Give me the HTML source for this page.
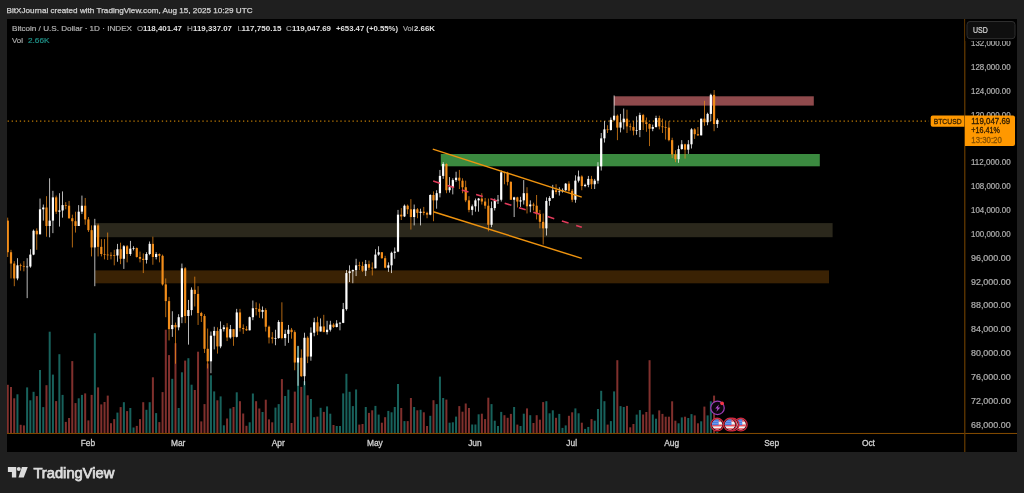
<!DOCTYPE html>
<html><head><meta charset="utf-8"><title>BTCUSD chart</title><style>html,body{margin:0;padding:0;background:#1f1f1f;overflow:hidden}svg{display:block}body{font-family:"Liberation Sans",sans-serif}</style></head><body>
<svg width="1024" height="493" viewBox="0 0 1024 493" font-family="'Liberation Sans', sans-serif">
<rect width="1024" height="493" fill="#1f1f1f"/>
<rect x="7" y="19" width="1010" height="433" fill="#000"/>
<defs><filter id="g" x="-5%" y="-30%" width="110%" height="160%"><feOffset dx="0" dy="0"/></filter><clipPath id="c"><rect x="7" y="19" width="957.5" height="414.5"/></clipPath></defs>
<g clip-path="url(#c)">
<rect x="613.9" y="96.3" width="199.9" height="9.3" fill="#8f4a4c"/>
<rect x="440.8" y="154" width="379" height="12.3" fill="#3b8a40"/>
<rect x="95.2" y="223.1" width="737.4" height="14.1" fill="#2b281c"/>
<rect x="95.2" y="270.4" width="733.8" height="12.9" fill="#3a2204"/>
<rect x="6.77" y="384.80" width="2.0" height="48.40" fill="#80302d"/><rect x="10.00" y="387.00" width="2.0" height="46.20" fill="#80302d"/><rect x="13.22" y="398.30" width="2.0" height="34.90" fill="#80302d"/><rect x="16.45" y="394.30" width="2.0" height="38.90" fill="#18625c"/><rect x="19.67" y="424.80" width="2.0" height="8.40" fill="#80302d"/><rect x="22.90" y="425.40" width="2.0" height="7.80" fill="#80302d"/><rect x="26.12" y="387.40" width="2.0" height="45.80" fill="#18625c"/><rect x="29.35" y="400.30" width="2.0" height="32.90" fill="#18625c"/><rect x="32.57" y="391.80" width="2.0" height="41.40" fill="#18625c"/><rect x="35.80" y="396.10" width="2.0" height="37.10" fill="#80302d"/><rect x="39.02" y="370.00" width="2.0" height="63.20" fill="#18625c"/><rect x="42.25" y="407.10" width="2.0" height="26.10" fill="#18625c"/><rect x="45.47" y="385.20" width="2.0" height="48.00" fill="#80302d"/><rect x="48.70" y="331.70" width="2.0" height="101.50" fill="#18625c"/><rect x="51.92" y="374.60" width="2.0" height="58.60" fill="#18625c"/><rect x="55.15" y="401.10" width="2.0" height="32.10" fill="#80302d"/><rect x="58.37" y="354.20" width="2.0" height="79.00" fill="#18625c"/><rect x="61.60" y="394.90" width="2.0" height="38.30" fill="#18625c"/><rect x="64.82" y="421.90" width="2.0" height="11.30" fill="#80302d"/><rect x="68.05" y="418.00" width="2.0" height="15.20" fill="#80302d"/><rect x="71.27" y="361.10" width="2.0" height="72.10" fill="#80302d"/><rect x="74.50" y="403.10" width="2.0" height="30.10" fill="#80302d"/><rect x="77.72" y="398.30" width="2.0" height="34.90" fill="#18625c"/><rect x="80.95" y="394.90" width="2.0" height="38.30" fill="#18625c"/><rect x="84.17" y="393.40" width="2.0" height="39.80" fill="#80302d"/><rect x="87.40" y="420.40" width="2.0" height="12.80" fill="#80302d"/><rect x="90.63" y="394.90" width="2.0" height="38.30" fill="#80302d"/><rect x="93.85" y="333.20" width="2.0" height="100.00" fill="#18625c"/><rect x="97.08" y="387.40" width="2.0" height="45.80" fill="#80302d"/><rect x="100.30" y="404.40" width="2.0" height="28.80" fill="#80302d"/><rect x="103.53" y="402.00" width="2.0" height="31.20" fill="#80302d"/><rect x="106.75" y="395.60" width="2.0" height="37.60" fill="#80302d"/><rect x="109.98" y="423.20" width="2.0" height="10.00" fill="#80302d"/><rect x="113.20" y="419.10" width="2.0" height="14.10" fill="#80302d"/><rect x="116.43" y="412.60" width="2.0" height="20.60" fill="#18625c"/><rect x="119.65" y="407.10" width="2.0" height="26.10" fill="#80302d"/><rect x="122.88" y="402.20" width="2.0" height="31.00" fill="#18625c"/><rect x="126.10" y="411.10" width="2.0" height="22.10" fill="#80302d"/><rect x="129.33" y="408.00" width="2.0" height="25.20" fill="#18625c"/><rect x="132.55" y="427.50" width="2.0" height="5.70" fill="#18625c"/><rect x="135.78" y="425.90" width="2.0" height="7.30" fill="#80302d"/><rect x="139.00" y="419.10" width="2.0" height="14.10" fill="#80302d"/><rect x="142.23" y="402.20" width="2.0" height="31.00" fill="#80302d"/><rect x="145.45" y="409.80" width="2.0" height="23.40" fill="#18625c"/><rect x="148.68" y="402.20" width="2.0" height="31.00" fill="#18625c"/><rect x="151.90" y="377.30" width="2.0" height="55.90" fill="#80302d"/><rect x="155.13" y="413.10" width="2.0" height="20.10" fill="#18625c"/><rect x="158.35" y="422.10" width="2.0" height="11.10" fill="#80302d"/><rect x="161.58" y="392.10" width="2.0" height="41.10" fill="#80302d"/><rect x="164.80" y="329.70" width="2.0" height="103.50" fill="#80302d"/><rect x="168.03" y="355.10" width="2.0" height="78.10" fill="#80302d"/><rect x="171.25" y="378.80" width="2.0" height="54.40" fill="#18625c"/><rect x="174.48" y="343.20" width="2.0" height="90.00" fill="#80302d"/><rect x="177.70" y="408.00" width="2.0" height="25.20" fill="#18625c"/><rect x="180.93" y="372.30" width="2.0" height="60.90" fill="#18625c"/><rect x="184.15" y="360.60" width="2.0" height="72.60" fill="#80302d"/><rect x="187.38" y="358.20" width="2.0" height="75.00" fill="#18625c"/><rect x="190.60" y="384.70" width="2.0" height="48.50" fill="#18625c"/><rect x="193.83" y="390.00" width="2.0" height="43.20" fill="#80302d"/><rect x="197.05" y="351.70" width="2.0" height="81.50" fill="#80302d"/><rect x="200.28" y="421.40" width="2.0" height="11.80" fill="#80302d"/><rect x="203.50" y="404.10" width="2.0" height="29.10" fill="#80302d"/><rect x="206.73" y="363.50" width="2.0" height="69.70" fill="#80302d"/><rect x="209.95" y="375.30" width="2.0" height="57.90" fill="#18625c"/><rect x="213.18" y="391.40" width="2.0" height="41.80" fill="#18625c"/><rect x="216.40" y="400.30" width="2.0" height="32.90" fill="#80302d"/><rect x="219.63" y="396.40" width="2.0" height="36.80" fill="#18625c"/><rect x="222.85" y="425.30" width="2.0" height="7.90" fill="#18625c"/><rect x="226.08" y="418.50" width="2.0" height="14.70" fill="#80302d"/><rect x="229.30" y="408.50" width="2.0" height="24.70" fill="#18625c"/><rect x="232.53" y="407.00" width="2.0" height="26.20" fill="#80302d"/><rect x="235.75" y="392.30" width="2.0" height="40.90" fill="#18625c"/><rect x="238.98" y="401.20" width="2.0" height="32.00" fill="#80302d"/><rect x="242.20" y="413.50" width="2.0" height="19.70" fill="#80302d"/><rect x="245.43" y="425.80" width="2.0" height="7.40" fill="#80302d"/><rect x="248.66" y="422.30" width="2.0" height="10.90" fill="#18625c"/><rect x="251.88" y="393.50" width="2.0" height="39.70" fill="#18625c"/><rect x="255.11" y="401.20" width="2.0" height="32.00" fill="#80302d"/><rect x="258.33" y="408.50" width="2.0" height="24.70" fill="#80302d"/><rect x="261.56" y="412.00" width="2.0" height="21.20" fill="#18625c"/><rect x="264.78" y="399.70" width="2.0" height="33.50" fill="#80302d"/><rect x="268.01" y="419.40" width="2.0" height="13.80" fill="#80302d"/><rect x="271.23" y="422.30" width="2.0" height="10.90" fill="#80302d"/><rect x="274.46" y="407.60" width="2.0" height="25.60" fill="#18625c"/><rect x="277.68" y="404.10" width="2.0" height="29.10" fill="#18625c"/><rect x="280.91" y="379.10" width="2.0" height="54.10" fill="#80302d"/><rect x="284.13" y="396.00" width="2.0" height="37.20" fill="#18625c"/><rect x="287.36" y="389.70" width="2.0" height="43.50" fill="#18625c"/><rect x="290.58" y="423.00" width="2.0" height="10.20" fill="#80302d"/><rect x="293.81" y="391.60" width="2.0" height="41.60" fill="#80302d"/><rect x="297.03" y="346.20" width="2.0" height="87.00" fill="#18625c"/><rect x="300.26" y="386.90" width="2.0" height="46.30" fill="#80302d"/><rect x="303.48" y="381.20" width="2.0" height="52.00" fill="#18625c"/><rect x="306.71" y="395.30" width="2.0" height="37.90" fill="#80302d"/><rect x="309.93" y="399.00" width="2.0" height="34.20" fill="#18625c"/><rect x="313.16" y="417.20" width="2.0" height="16.00" fill="#18625c"/><rect x="316.38" y="416.60" width="2.0" height="16.60" fill="#80302d"/><rect x="319.61" y="407.80" width="2.0" height="25.40" fill="#18625c"/><rect x="322.83" y="411.90" width="2.0" height="21.30" fill="#80302d"/><rect x="326.06" y="406.40" width="2.0" height="26.80" fill="#18625c"/><rect x="329.28" y="413.70" width="2.0" height="19.50" fill="#18625c"/><rect x="332.51" y="425.00" width="2.0" height="8.20" fill="#80302d"/><rect x="335.73" y="426.00" width="2.0" height="7.20" fill="#18625c"/><rect x="338.96" y="426.00" width="2.0" height="7.20" fill="#18625c"/><rect x="342.18" y="393.40" width="2.0" height="39.80" fill="#18625c"/><rect x="345.41" y="373.80" width="2.0" height="59.40" fill="#18625c"/><rect x="348.63" y="391.80" width="2.0" height="41.40" fill="#18625c"/><rect x="351.86" y="406.10" width="2.0" height="27.10" fill="#18625c"/><rect x="355.08" y="389.45" width="2.0" height="43.75" fill="#18625c"/><rect x="358.31" y="424.60" width="2.0" height="8.60" fill="#80302d"/><rect x="361.53" y="424.00" width="2.0" height="9.20" fill="#80302d"/><rect x="364.76" y="407.00" width="2.0" height="26.20" fill="#18625c"/><rect x="367.98" y="412.90" width="2.0" height="20.30" fill="#80302d"/><rect x="371.21" y="410.30" width="2.0" height="22.90" fill="#80302d"/><rect x="374.43" y="405.90" width="2.0" height="27.30" fill="#18625c"/><rect x="377.66" y="414.60" width="2.0" height="18.60" fill="#18625c"/><rect x="380.88" y="422.70" width="2.0" height="10.50" fill="#80302d"/><rect x="384.11" y="417.20" width="2.0" height="16.00" fill="#80302d"/><rect x="387.33" y="410.90" width="2.0" height="22.30" fill="#18625c"/><rect x="390.56" y="412.30" width="2.0" height="20.90" fill="#18625c"/><rect x="393.78" y="407.00" width="2.0" height="26.20" fill="#18625c"/><rect x="397.01" y="384.00" width="2.0" height="49.20" fill="#18625c"/><rect x="400.23" y="408.00" width="2.0" height="25.20" fill="#80302d"/><rect x="403.46" y="421.10" width="2.0" height="12.10" fill="#18625c"/><rect x="406.68" y="421.10" width="2.0" height="12.10" fill="#80302d"/><rect x="409.91" y="398.00" width="2.0" height="35.20" fill="#80302d"/><rect x="413.14" y="407.00" width="2.0" height="26.20" fill="#18625c"/><rect x="416.36" y="410.30" width="2.0" height="22.90" fill="#80302d"/><rect x="419.59" y="409.80" width="2.0" height="23.40" fill="#18625c"/><rect x="422.81" y="412.30" width="2.0" height="20.90" fill="#80302d"/><rect x="426.04" y="426.00" width="2.0" height="7.20" fill="#80302d"/><rect x="429.26" y="415.80" width="2.0" height="17.40" fill="#18625c"/><rect x="432.49" y="400.20" width="2.0" height="33.00" fill="#80302d"/><rect x="435.71" y="404.10" width="2.0" height="29.10" fill="#18625c"/><rect x="438.94" y="376.60" width="2.0" height="56.60" fill="#18625c"/><rect x="442.16" y="398.00" width="2.0" height="35.20" fill="#18625c"/><rect x="445.39" y="399.60" width="2.0" height="33.60" fill="#80302d"/><rect x="448.61" y="422.70" width="2.0" height="10.50" fill="#18625c"/><rect x="451.84" y="422.30" width="2.0" height="10.90" fill="#18625c"/><rect x="455.06" y="416.60" width="2.0" height="16.60" fill="#18625c"/><rect x="458.29" y="406.10" width="2.0" height="27.10" fill="#80302d"/><rect x="461.51" y="411.70" width="2.0" height="21.50" fill="#80302d"/><rect x="464.74" y="403.50" width="2.0" height="29.70" fill="#80302d"/><rect x="467.96" y="408.00" width="2.0" height="25.20" fill="#80302d"/><rect x="471.19" y="424.50" width="2.0" height="8.70" fill="#18625c"/><rect x="474.41" y="424.50" width="2.0" height="8.70" fill="#18625c"/><rect x="477.64" y="414.30" width="2.0" height="18.90" fill="#18625c"/><rect x="480.86" y="413.70" width="2.0" height="19.50" fill="#80302d"/><rect x="484.09" y="419.10" width="2.0" height="14.10" fill="#80302d"/><rect x="487.31" y="397.70" width="2.0" height="35.50" fill="#80302d"/><rect x="490.54" y="404.10" width="2.0" height="29.10" fill="#18625c"/><rect x="493.76" y="420.70" width="2.0" height="12.50" fill="#18625c"/><rect x="496.99" y="426.00" width="2.0" height="7.20" fill="#18625c"/><rect x="500.21" y="411.90" width="2.0" height="21.30" fill="#18625c"/><rect x="503.44" y="415.20" width="2.0" height="18.00" fill="#80302d"/><rect x="506.66" y="417.80" width="2.0" height="15.40" fill="#80302d"/><rect x="509.89" y="413.90" width="2.0" height="19.30" fill="#80302d"/><rect x="513.11" y="407.00" width="2.0" height="26.20" fill="#18625c"/><rect x="516.34" y="424.60" width="2.0" height="8.60" fill="#80302d"/><rect x="519.56" y="426.00" width="2.0" height="7.20" fill="#18625c"/><rect x="522.79" y="413.70" width="2.0" height="19.50" fill="#18625c"/><rect x="526.01" y="408.40" width="2.0" height="24.80" fill="#80302d"/><rect x="529.24" y="415.20" width="2.0" height="18.00" fill="#18625c"/><rect x="532.46" y="423.00" width="2.0" height="10.20" fill="#80302d"/><rect x="535.69" y="415.20" width="2.0" height="18.00" fill="#80302d"/><rect x="538.91" y="419.70" width="2.0" height="13.50" fill="#80302d"/><rect x="542.14" y="402.10" width="2.0" height="31.10" fill="#80302d"/><rect x="545.36" y="401.20" width="2.0" height="32.00" fill="#18625c"/><rect x="548.59" y="413.30" width="2.0" height="19.90" fill="#18625c"/><rect x="551.81" y="410.30" width="2.0" height="22.90" fill="#18625c"/><rect x="555.04" y="417.80" width="2.0" height="15.40" fill="#80302d"/><rect x="558.26" y="413.90" width="2.0" height="19.30" fill="#18625c"/><rect x="561.49" y="427.90" width="2.0" height="5.30" fill="#18625c"/><rect x="564.71" y="425.40" width="2.0" height="7.80" fill="#18625c"/><rect x="567.94" y="415.80" width="2.0" height="17.40" fill="#80302d"/><rect x="571.16" y="412.30" width="2.0" height="20.90" fill="#80302d"/><rect x="574.39" y="408.40" width="2.0" height="24.80" fill="#18625c"/><rect x="577.62" y="413.30" width="2.0" height="19.90" fill="#18625c"/><rect x="580.84" y="422.70" width="2.0" height="10.50" fill="#80302d"/><rect x="584.07" y="428.90" width="2.0" height="4.30" fill="#18625c"/><rect x="587.29" y="426.95" width="2.0" height="6.25" fill="#18625c"/><rect x="590.52" y="419.10" width="2.0" height="14.10" fill="#80302d"/><rect x="593.74" y="420.70" width="2.0" height="12.50" fill="#18625c"/><rect x="596.97" y="409.00" width="2.0" height="24.20" fill="#18625c"/><rect x="600.19" y="390.80" width="2.0" height="42.40" fill="#18625c"/><rect x="603.42" y="401.20" width="2.0" height="32.00" fill="#18625c"/><rect x="606.64" y="424.60" width="2.0" height="8.60" fill="#80302d"/><rect x="609.87" y="421.10" width="2.0" height="12.10" fill="#18625c"/><rect x="613.09" y="391.40" width="2.0" height="41.80" fill="#18625c"/><rect x="616.32" y="360.20" width="2.0" height="73.00" fill="#80302d"/><rect x="619.54" y="406.10" width="2.0" height="27.10" fill="#18625c"/><rect x="622.77" y="407.00" width="2.0" height="26.20" fill="#18625c"/><rect x="625.99" y="405.90" width="2.0" height="27.30" fill="#80302d"/><rect x="629.22" y="427.30" width="2.0" height="5.90" fill="#80302d"/><rect x="632.44" y="424.00" width="2.0" height="9.20" fill="#80302d"/><rect x="635.67" y="414.60" width="2.0" height="18.60" fill="#18625c"/><rect x="638.89" y="410.10" width="2.0" height="23.10" fill="#18625c"/><rect x="642.12" y="414.50" width="2.0" height="18.70" fill="#80302d"/><rect x="645.34" y="412.00" width="2.0" height="21.20" fill="#80302d"/><rect x="648.57" y="360.20" width="2.0" height="73.00" fill="#80302d"/><rect x="651.79" y="414.50" width="2.0" height="18.70" fill="#18625c"/><rect x="655.02" y="418.70" width="2.0" height="14.50" fill="#18625c"/><rect x="658.24" y="410.40" width="2.0" height="22.80" fill="#80302d"/><rect x="661.47" y="413.90" width="2.0" height="19.30" fill="#80302d"/><rect x="664.69" y="416.70" width="2.0" height="16.50" fill="#80302d"/><rect x="667.92" y="416.70" width="2.0" height="16.50" fill="#80302d"/><rect x="671.14" y="401.30" width="2.0" height="31.90" fill="#80302d"/><rect x="674.37" y="420.70" width="2.0" height="12.50" fill="#80302d"/><rect x="677.59" y="423.30" width="2.0" height="9.90" fill="#18625c"/><rect x="680.82" y="417.40" width="2.0" height="15.80" fill="#18625c"/><rect x="684.04" y="416.70" width="2.0" height="16.50" fill="#80302d"/><rect x="687.27" y="418.00" width="2.0" height="15.20" fill="#18625c"/><rect x="690.49" y="414.10" width="2.0" height="19.10" fill="#18625c"/><rect x="693.72" y="415.40" width="2.0" height="17.80" fill="#80302d"/><rect x="696.94" y="423.30" width="2.0" height="9.90" fill="#80302d"/><rect x="700.17" y="421.30" width="2.0" height="11.90" fill="#18625c"/><rect x="703.39" y="406.60" width="2.0" height="26.60" fill="#80302d"/><rect x="706.62" y="415.40" width="2.0" height="17.80" fill="#18625c"/><rect x="709.84" y="401.30" width="2.0" height="31.90" fill="#18625c"/><rect x="713.07" y="395.60" width="2.0" height="37.60" fill="#80302d"/><rect x="716.29" y="432.00" width="2.0" height="1.20" fill="#18625c"/>
<line x1="7.6" y1="121.0" x2="929" y2="121.0" stroke="#c07c06" stroke-width="1.25" stroke-dasharray="1.3 2.758"/>
<rect x="7.41" y="217.64" width="0.72" height="39.35" fill="#f28d1a"/><rect x="10.64" y="249.83" width="0.72" height="28.62" fill="#f28d1a"/><rect x="13.86" y="261.16" width="0.72" height="25.04" fill="#f28d1a"/><rect x="17.09" y="258.18" width="0.72" height="22.06" fill="#ffffff"/><rect x="20.31" y="263.55" width="0.72" height="7.15" fill="#f28d1a"/><rect x="23.54" y="261.16" width="0.72" height="10.14" fill="#f28d1a"/><rect x="26.76" y="258.18" width="0.72" height="39.95" fill="#ffffff"/><rect x="29.99" y="249.24" width="0.72" height="18.48" fill="#ffffff"/><rect x="33.21" y="229.56" width="0.72" height="25.64" fill="#ffffff"/><rect x="36.44" y="228.37" width="0.72" height="21.46" fill="#f28d1a"/><rect x="39.66" y="198.56" width="0.72" height="35.77" fill="#ffffff"/><rect x="42.89" y="204.52" width="0.72" height="16.10" fill="#ffffff"/><rect x="46.11" y="196.18" width="0.72" height="40.54" fill="#f28d1a"/><rect x="49.34" y="178.29" width="0.72" height="59.02" fill="#ffffff"/><rect x="52.56" y="190.81" width="0.72" height="42.33" fill="#ffffff"/><rect x="55.79" y="195.58" width="0.72" height="18.48" fill="#f28d1a"/><rect x="59.01" y="193.19" width="0.72" height="33.39" fill="#ffffff"/><rect x="62.24" y="191.41" width="0.72" height="26.23" fill="#ffffff"/><rect x="65.46" y="202.14" width="0.72" height="7.15" fill="#f28d1a"/><rect x="68.69" y="200.94" width="0.72" height="17.89" fill="#f28d1a"/><rect x="71.91" y="214.66" width="0.72" height="32.79" fill="#f28d1a"/><rect x="75.14" y="211.68" width="0.72" height="20.87" fill="#f28d1a"/><rect x="78.36" y="205.12" width="0.72" height="20.87" fill="#ffffff"/><rect x="81.59" y="195.58" width="0.72" height="18.48" fill="#ffffff"/><rect x="84.81" y="197.96" width="0.72" height="26.83" fill="#f28d1a"/><rect x="88.04" y="217.04" width="0.72" height="14.91" fill="#f28d1a"/><rect x="91.27" y="225.39" width="0.72" height="31.00" fill="#f28d1a"/><rect x="94.49" y="218.83" width="0.72" height="67.37" fill="#ffffff"/><rect x="97.72" y="223.60" width="0.72" height="32.79" fill="#f28d1a"/><rect x="100.94" y="239.10" width="0.72" height="17.29" fill="#f28d1a"/><rect x="104.17" y="239.10" width="0.72" height="20.27" fill="#f28d1a"/><rect x="107.39" y="232.54" width="0.72" height="27.43" fill="#f28d1a"/><rect x="110.62" y="252.22" width="0.72" height="7.15" fill="#f28d1a"/><rect x="113.84" y="249.83" width="0.72" height="15.50" fill="#f28d1a"/><rect x="117.07" y="243.87" width="0.72" height="17.89" fill="#ffffff"/><rect x="120.29" y="242.68" width="0.72" height="21.46" fill="#f28d1a"/><rect x="123.52" y="245.06" width="0.72" height="23.85" fill="#ffffff"/><rect x="126.74" y="245.06" width="0.72" height="17.29" fill="#f28d1a"/><rect x="129.97" y="240.89" width="0.72" height="14.91" fill="#ffffff"/><rect x="133.19" y="246.26" width="0.72" height="4.17" fill="#ffffff"/><rect x="136.42" y="247.45" width="0.72" height="10.14" fill="#f28d1a"/><rect x="139.64" y="251.62" width="0.72" height="10.73" fill="#f28d1a"/><rect x="142.87" y="253.41" width="0.72" height="19.67" fill="#f28d1a"/><rect x="146.09" y="252.22" width="0.72" height="11.33" fill="#ffffff"/><rect x="149.32" y="241.49" width="0.72" height="13.71" fill="#ffffff"/><rect x="152.54" y="236.72" width="0.72" height="28.02" fill="#f28d1a"/><rect x="155.77" y="252.22" width="0.72" height="7.15" fill="#ffffff"/><rect x="158.99" y="253.41" width="0.72" height="8.94" fill="#f28d1a"/><rect x="162.22" y="254.60" width="0.72" height="31.00" fill="#f28d1a"/><rect x="165.44" y="278.45" width="0.72" height="38.75" fill="#f28d1a"/><rect x="168.67" y="296.93" width="0.72" height="43.52" fill="#f28d1a"/><rect x="171.89" y="311.24" width="0.72" height="25.64" fill="#ffffff"/><rect x="175.12" y="322.57" width="0.72" height="41.14" fill="#f28d1a"/><rect x="178.34" y="314.22" width="0.72" height="16.10" fill="#ffffff"/><rect x="181.57" y="263.55" width="0.72" height="59.62" fill="#ffffff"/><rect x="184.79" y="267.12" width="0.72" height="56.04" fill="#f28d1a"/><rect x="188.02" y="299.91" width="0.72" height="44.72" fill="#ffffff"/><rect x="191.24" y="287.39" width="0.72" height="28.02" fill="#ffffff"/><rect x="194.47" y="276.66" width="0.72" height="29.81" fill="#f28d1a"/><rect x="197.69" y="286.20" width="0.72" height="38.75" fill="#f28d1a"/><rect x="200.92" y="311.84" width="0.72" height="10.14" fill="#f28d1a"/><rect x="204.14" y="314.22" width="0.72" height="38.75" fill="#f28d1a"/><rect x="207.37" y="328.53" width="0.72" height="39.95" fill="#f28d1a"/><rect x="210.59" y="331.51" width="0.72" height="41.73" fill="#ffffff"/><rect x="213.82" y="326.74" width="0.72" height="22.66" fill="#ffffff"/><rect x="217.04" y="327.34" width="0.72" height="26.23" fill="#f28d1a"/><rect x="220.27" y="321.38" width="0.72" height="26.83" fill="#ffffff"/><rect x="223.49" y="324.95" width="0.72" height="6.56" fill="#ffffff"/><rect x="226.72" y="323.17" width="0.72" height="17.89" fill="#f28d1a"/><rect x="229.94" y="324.95" width="0.72" height="13.71" fill="#ffffff"/><rect x="233.17" y="329.13" width="0.72" height="16.69" fill="#f28d1a"/><rect x="236.39" y="308.86" width="0.72" height="28.62" fill="#ffffff"/><rect x="239.62" y="308.86" width="0.72" height="22.66" fill="#f28d1a"/><rect x="242.84" y="324.36" width="0.72" height="9.54" fill="#f28d1a"/><rect x="246.07" y="326.15" width="0.72" height="4.77" fill="#f28d1a"/><rect x="249.29" y="316.61" width="0.72" height="13.71" fill="#ffffff"/><rect x="252.52" y="300.51" width="0.72" height="19.67" fill="#ffffff"/><rect x="255.75" y="302.30" width="0.72" height="13.12" fill="#f28d1a"/><rect x="258.97" y="303.49" width="0.72" height="14.31" fill="#f28d1a"/><rect x="262.20" y="306.47" width="0.72" height="11.92" fill="#ffffff"/><rect x="265.42" y="308.26" width="0.72" height="23.25" fill="#f28d1a"/><rect x="268.65" y="325.55" width="0.72" height="17.89" fill="#f28d1a"/><rect x="271.87" y="332.11" width="0.72" height="11.33" fill="#f28d1a"/><rect x="275.10" y="329.72" width="0.72" height="15.50" fill="#ffffff"/><rect x="278.32" y="320.19" width="0.72" height="18.48" fill="#ffffff"/><rect x="281.55" y="302.30" width="0.72" height="36.96" fill="#f28d1a"/><rect x="284.77" y="329.72" width="0.72" height="16.10" fill="#ffffff"/><rect x="288.00" y="324.95" width="0.72" height="17.89" fill="#ffffff"/><rect x="291.22" y="327.94" width="0.72" height="10.73" fill="#f28d1a"/><rect x="294.45" y="330.32" width="0.72" height="39.95" fill="#f28d1a"/><rect x="297.67" y="345.82" width="0.72" height="39.95" fill="#ffffff"/><rect x="300.90" y="349.40" width="0.72" height="27.43" fill="#f28d1a"/><rect x="304.12" y="332.71" width="0.72" height="52.47" fill="#ffffff"/><rect x="307.35" y="336.28" width="0.72" height="26.83" fill="#f28d1a"/><rect x="310.57" y="327.34" width="0.72" height="33.39" fill="#ffffff"/><rect x="313.80" y="317.80" width="0.72" height="18.48" fill="#ffffff"/><rect x="317.02" y="316.61" width="0.72" height="18.48" fill="#f28d1a"/><rect x="320.25" y="318.40" width="0.72" height="13.12" fill="#ffffff"/><rect x="323.47" y="314.82" width="0.72" height="17.29" fill="#f28d1a"/><rect x="326.70" y="320.78" width="0.72" height="13.71" fill="#ffffff"/><rect x="329.92" y="320.78" width="0.72" height="10.73" fill="#ffffff"/><rect x="333.15" y="323.17" width="0.72" height="4.77" fill="#f28d1a"/><rect x="336.37" y="320.19" width="0.72" height="7.15" fill="#ffffff"/><rect x="339.60" y="321.97" width="0.72" height="8.35" fill="#ffffff"/><rect x="342.82" y="302.90" width="0.72" height="20.27" fill="#ffffff"/><rect x="346.05" y="270.10" width="0.72" height="40.54" fill="#ffffff"/><rect x="349.27" y="265.33" width="0.72" height="16.69" fill="#ffffff"/><rect x="352.50" y="269.51" width="0.72" height="13.71" fill="#ffffff"/><rect x="355.72" y="258.78" width="0.72" height="17.29" fill="#ffffff"/><rect x="358.95" y="261.76" width="0.72" height="8.35" fill="#f28d1a"/><rect x="362.17" y="261.76" width="0.72" height="10.14" fill="#f28d1a"/><rect x="365.40" y="259.97" width="0.72" height="16.10" fill="#ffffff"/><rect x="368.62" y="260.56" width="0.72" height="9.54" fill="#f28d1a"/><rect x="371.85" y="262.35" width="0.72" height="13.12" fill="#f28d1a"/><rect x="375.07" y="249.24" width="0.72" height="19.08" fill="#ffffff"/><rect x="378.30" y="246.26" width="0.72" height="9.54" fill="#ffffff"/><rect x="381.52" y="252.22" width="0.72" height="6.56" fill="#f28d1a"/><rect x="384.75" y="255.80" width="0.72" height="12.52" fill="#f28d1a"/><rect x="387.97" y="262.35" width="0.72" height="9.54" fill="#ffffff"/><rect x="391.20" y="251.62" width="0.72" height="21.46" fill="#ffffff"/><rect x="394.42" y="247.45" width="0.72" height="11.33" fill="#ffffff"/><rect x="397.65" y="209.89" width="0.72" height="42.33" fill="#ffffff"/><rect x="400.87" y="208.10" width="0.72" height="11.92" fill="#f28d1a"/><rect x="404.10" y="204.52" width="0.72" height="12.52" fill="#ffffff"/><rect x="407.32" y="204.52" width="0.72" height="9.54" fill="#f28d1a"/><rect x="410.55" y="199.16" width="0.72" height="30.41" fill="#f28d1a"/><rect x="413.78" y="204.52" width="0.72" height="20.87" fill="#ffffff"/><rect x="417.00" y="208.10" width="0.72" height="10.14" fill="#f28d1a"/><rect x="420.23" y="208.70" width="0.72" height="16.69" fill="#ffffff"/><rect x="423.45" y="206.91" width="0.72" height="8.35" fill="#f28d1a"/><rect x="426.68" y="211.68" width="0.72" height="6.56" fill="#f28d1a"/><rect x="429.90" y="194.39" width="0.72" height="20.87" fill="#ffffff"/><rect x="433.13" y="191.41" width="0.72" height="29.81" fill="#f28d1a"/><rect x="436.35" y="190.21" width="0.72" height="18.48" fill="#ffffff"/><rect x="439.58" y="169.94" width="0.72" height="27.43" fill="#ffffff"/><rect x="442.80" y="162.19" width="0.72" height="16.69" fill="#ffffff"/><rect x="446.03" y="163.38" width="0.72" height="29.81" fill="#f28d1a"/><rect x="449.25" y="177.10" width="0.72" height="15.50" fill="#ffffff"/><rect x="452.48" y="178.29" width="0.72" height="16.10" fill="#ffffff"/><rect x="455.70" y="171.73" width="0.72" height="10.14" fill="#ffffff"/><rect x="458.93" y="169.94" width="0.72" height="19.08" fill="#f28d1a"/><rect x="462.15" y="178.29" width="0.72" height="14.91" fill="#f28d1a"/><rect x="465.38" y="180.67" width="0.72" height="21.46" fill="#f28d1a"/><rect x="468.60" y="196.18" width="0.72" height="16.10" fill="#f28d1a"/><rect x="471.83" y="204.52" width="0.72" height="10.73" fill="#ffffff"/><rect x="475.05" y="198.56" width="0.72" height="13.12" fill="#ffffff"/><rect x="478.28" y="197.96" width="0.72" height="13.71" fill="#ffffff"/><rect x="481.50" y="193.19" width="0.72" height="11.33" fill="#f28d1a"/><rect x="484.73" y="197.96" width="0.72" height="10.73" fill="#f28d1a"/><rect x="487.95" y="198.56" width="0.72" height="32.79" fill="#f28d1a"/><rect x="491.18" y="201.54" width="0.72" height="25.64" fill="#ffffff"/><rect x="494.40" y="198.56" width="0.72" height="11.92" fill="#ffffff"/><rect x="497.63" y="194.98" width="0.72" height="8.94" fill="#ffffff"/><rect x="500.85" y="170.54" width="0.72" height="31.00" fill="#ffffff"/><rect x="504.08" y="171.73" width="0.72" height="12.52" fill="#f28d1a"/><rect x="507.30" y="171.73" width="0.72" height="13.71" fill="#f28d1a"/><rect x="510.53" y="181.27" width="0.72" height="18.48" fill="#f28d1a"/><rect x="513.75" y="196.77" width="0.72" height="20.27" fill="#ffffff"/><rect x="516.98" y="196.77" width="0.72" height="10.73" fill="#f28d1a"/><rect x="520.20" y="196.77" width="0.72" height="10.14" fill="#ffffff"/><rect x="523.43" y="180.08" width="0.72" height="24.44" fill="#ffffff"/><rect x="526.65" y="187.23" width="0.72" height="26.23" fill="#f28d1a"/><rect x="529.88" y="200.35" width="0.72" height="11.92" fill="#ffffff"/><rect x="533.10" y="202.73" width="0.72" height="7.75" fill="#f28d1a"/><rect x="536.33" y="194.98" width="0.72" height="24.44" fill="#f28d1a"/><rect x="539.55" y="209.89" width="0.72" height="18.48" fill="#f28d1a"/><rect x="542.78" y="213.47" width="0.72" height="31.00" fill="#f28d1a"/><rect x="546.00" y="197.37" width="0.72" height="38.16" fill="#ffffff"/><rect x="549.23" y="196.18" width="0.72" height="9.54" fill="#ffffff"/><rect x="552.45" y="184.85" width="0.72" height="13.71" fill="#ffffff"/><rect x="555.68" y="184.25" width="0.72" height="10.14" fill="#f28d1a"/><rect x="558.90" y="187.23" width="0.72" height="8.35" fill="#ffffff"/><rect x="562.13" y="188.42" width="0.72" height="4.17" fill="#ffffff"/><rect x="565.35" y="183.06" width="0.72" height="7.75" fill="#ffffff"/><rect x="568.58" y="181.27" width="0.72" height="11.92" fill="#f28d1a"/><rect x="571.80" y="189.02" width="0.72" height="13.12" fill="#f28d1a"/><rect x="575.03" y="175.31" width="0.72" height="27.43" fill="#ffffff"/><rect x="578.26" y="170.54" width="0.72" height="11.92" fill="#ffffff"/><rect x="581.48" y="175.31" width="0.72" height="14.91" fill="#f28d1a"/><rect x="584.71" y="183.66" width="0.72" height="3.58" fill="#ffffff"/><rect x="587.93" y="175.90" width="0.72" height="11.33" fill="#ffffff"/><rect x="591.16" y="175.90" width="0.72" height="13.12" fill="#f28d1a"/><rect x="594.38" y="178.89" width="0.72" height="10.14" fill="#ffffff"/><rect x="597.61" y="162.19" width="0.72" height="21.46" fill="#ffffff"/><rect x="600.83" y="132.98" width="0.72" height="37.56" fill="#ffffff"/><rect x="604.06" y="121.05" width="0.72" height="21.46" fill="#ffffff"/><rect x="607.28" y="125.23" width="0.72" height="7.75" fill="#f28d1a"/><rect x="610.51" y="117.48" width="0.72" height="13.12" fill="#ffffff"/><rect x="613.73" y="95.42" width="0.72" height="25.64" fill="#ffffff"/><rect x="616.96" y="114.50" width="0.72" height="25.64" fill="#f28d1a"/><rect x="620.18" y="113.90" width="0.72" height="18.48" fill="#ffffff"/><rect x="623.41" y="108.53" width="0.72" height="20.87" fill="#ffffff"/><rect x="626.63" y="109.73" width="0.72" height="23.25" fill="#f28d1a"/><rect x="629.86" y="123.44" width="0.72" height="7.15" fill="#f28d1a"/><rect x="633.08" y="121.05" width="0.72" height="14.31" fill="#f28d1a"/><rect x="636.31" y="116.28" width="0.72" height="18.48" fill="#ffffff"/><rect x="639.53" y="112.71" width="0.72" height="24.44" fill="#ffffff"/><rect x="642.76" y="113.90" width="0.72" height="16.10" fill="#f28d1a"/><rect x="645.98" y="117.48" width="0.72" height="14.31" fill="#f28d1a"/><rect x="649.21" y="123.44" width="0.72" height="22.66" fill="#f28d1a"/><rect x="652.43" y="124.63" width="0.72" height="6.56" fill="#ffffff"/><rect x="655.66" y="115.69" width="0.72" height="11.92" fill="#ffffff"/><rect x="658.88" y="115.69" width="0.72" height="13.71" fill="#f28d1a"/><rect x="662.11" y="118.67" width="0.72" height="14.31" fill="#f28d1a"/><rect x="665.33" y="121.65" width="0.72" height="17.89" fill="#f28d1a"/><rect x="668.56" y="121.05" width="0.72" height="20.27" fill="#f28d1a"/><rect x="671.78" y="137.75" width="0.72" height="20.27" fill="#f28d1a"/><rect x="675.01" y="150.27" width="0.72" height="11.92" fill="#f28d1a"/><rect x="678.23" y="145.50" width="0.72" height="17.29" fill="#ffffff"/><rect x="681.46" y="140.13" width="0.72" height="9.54" fill="#ffffff"/><rect x="684.68" y="143.71" width="0.72" height="14.91" fill="#f28d1a"/><rect x="687.91" y="140.13" width="0.72" height="13.71" fill="#ffffff"/><rect x="691.13" y="128.21" width="0.72" height="20.27" fill="#ffffff"/><rect x="694.36" y="128.21" width="0.72" height="10.73" fill="#f28d1a"/><rect x="697.58" y="127.02" width="0.72" height="8.94" fill="#f28d1a"/><rect x="700.81" y="118.67" width="0.72" height="16.69" fill="#ffffff"/><rect x="704.03" y="100.78" width="0.72" height="25.04" fill="#f28d1a"/><rect x="707.26" y="112.71" width="0.72" height="12.52" fill="#ffffff"/><rect x="710.48" y="93.63" width="0.72" height="27.43" fill="#ffffff"/><rect x="713.71" y="90.05" width="0.72" height="41.14" fill="#f28d1a"/><rect x="716.93" y="118.45" width="0.72" height="9.46" fill="#ffffff"/>
<rect x="6.67" y="220.62" width="2.2" height="31.60" fill="#f28d1a"/><rect x="9.90" y="252.22" width="2.2" height="11.33" fill="#f28d1a"/><rect x="13.12" y="263.55" width="2.2" height="14.91" fill="#f28d1a"/><rect x="16.35" y="265.33" width="2.2" height="13.12" fill="#ffffff"/><rect x="19.57" y="265.33" width="2.2" height="0.70" fill="#f28d1a"/><rect x="22.80" y="265.93" width="2.2" height="0.70" fill="#f28d1a"/><rect x="26.02" y="266.53" width="2.2" height="0.70" fill="#ffffff"/><rect x="29.25" y="254.60" width="2.2" height="11.92" fill="#ffffff"/><rect x="32.47" y="230.75" width="2.2" height="23.85" fill="#ffffff"/><rect x="35.70" y="230.75" width="2.2" height="3.58" fill="#f28d1a"/><rect x="38.92" y="209.29" width="2.2" height="25.04" fill="#ffffff"/><rect x="42.15" y="207.50" width="2.2" height="1.79" fill="#ffffff"/><rect x="45.37" y="207.50" width="2.2" height="18.48" fill="#f28d1a"/><rect x="48.60" y="220.62" width="2.2" height="5.37" fill="#ffffff"/><rect x="51.82" y="197.37" width="2.2" height="23.25" fill="#ffffff"/><rect x="55.05" y="197.37" width="2.2" height="14.31" fill="#f28d1a"/><rect x="58.27" y="210.48" width="2.2" height="1.19" fill="#ffffff"/><rect x="61.50" y="205.12" width="2.2" height="5.37" fill="#ffffff"/><rect x="64.72" y="205.12" width="2.2" height="0.70" fill="#f28d1a"/><rect x="67.95" y="205.71" width="2.2" height="12.52" fill="#f28d1a"/><rect x="71.17" y="218.23" width="2.2" height="2.98" fill="#f28d1a"/><rect x="74.40" y="221.22" width="2.2" height="4.77" fill="#f28d1a"/><rect x="77.62" y="211.68" width="2.2" height="14.31" fill="#ffffff"/><rect x="80.85" y="205.71" width="2.2" height="5.96" fill="#ffffff"/><rect x="84.07" y="205.71" width="2.2" height="13.71" fill="#f28d1a"/><rect x="87.30" y="219.43" width="2.2" height="10.73" fill="#f28d1a"/><rect x="90.53" y="230.16" width="2.2" height="17.29" fill="#f28d1a"/><rect x="93.75" y="225.39" width="2.2" height="22.06" fill="#ffffff"/><rect x="96.98" y="225.39" width="2.2" height="21.46" fill="#f28d1a"/><rect x="100.20" y="246.85" width="2.2" height="7.15" fill="#f28d1a"/><rect x="103.43" y="254.01" width="2.2" height="0.70" fill="#f28d1a"/><rect x="106.65" y="254.60" width="2.2" height="0.70" fill="#f28d1a"/><rect x="109.88" y="254.90" width="2.2" height="0.70" fill="#f28d1a"/><rect x="113.10" y="255.20" width="2.2" height="0.70" fill="#f28d1a"/><rect x="116.33" y="249.24" width="2.2" height="6.26" fill="#ffffff"/><rect x="119.55" y="249.24" width="2.2" height="9.54" fill="#f28d1a"/><rect x="122.78" y="246.26" width="2.2" height="12.52" fill="#ffffff"/><rect x="126.00" y="246.26" width="2.2" height="7.75" fill="#f28d1a"/><rect x="129.23" y="248.64" width="2.2" height="5.37" fill="#ffffff"/><rect x="132.45" y="248.04" width="2.2" height="0.70" fill="#ffffff"/><rect x="135.68" y="248.04" width="2.2" height="8.94" fill="#f28d1a"/><rect x="138.90" y="256.99" width="2.2" height="1.79" fill="#f28d1a"/><rect x="142.13" y="258.78" width="2.2" height="1.19" fill="#f28d1a"/><rect x="145.35" y="254.01" width="2.2" height="5.96" fill="#ffffff"/><rect x="148.58" y="243.87" width="2.2" height="10.14" fill="#ffffff"/><rect x="151.80" y="243.87" width="2.2" height="13.12" fill="#f28d1a"/><rect x="155.03" y="254.01" width="2.2" height="2.98" fill="#ffffff"/><rect x="158.25" y="254.01" width="2.2" height="1.79" fill="#f28d1a"/><rect x="161.48" y="255.80" width="2.2" height="28.62" fill="#f28d1a"/><rect x="164.70" y="284.41" width="2.2" height="16.69" fill="#f28d1a"/><rect x="167.93" y="301.11" width="2.2" height="28.02" fill="#f28d1a"/><rect x="171.15" y="324.95" width="2.2" height="4.17" fill="#ffffff"/><rect x="174.38" y="324.95" width="2.2" height="2.38" fill="#f28d1a"/><rect x="177.60" y="317.20" width="2.2" height="10.14" fill="#ffffff"/><rect x="180.83" y="268.32" width="2.2" height="48.89" fill="#ffffff"/><rect x="184.05" y="268.32" width="2.2" height="47.70" fill="#f28d1a"/><rect x="187.28" y="310.05" width="2.2" height="5.96" fill="#ffffff"/><rect x="190.50" y="289.78" width="2.2" height="20.27" fill="#ffffff"/><rect x="193.73" y="289.78" width="2.2" height="4.17" fill="#f28d1a"/><rect x="196.95" y="293.95" width="2.2" height="19.08" fill="#f28d1a"/><rect x="200.18" y="313.03" width="2.2" height="2.98" fill="#f28d1a"/><rect x="203.40" y="316.01" width="2.2" height="32.79" fill="#f28d1a"/><rect x="206.63" y="348.80" width="2.2" height="12.52" fill="#f28d1a"/><rect x="209.85" y="335.69" width="2.2" height="25.64" fill="#ffffff"/><rect x="213.08" y="330.92" width="2.2" height="4.77" fill="#ffffff"/><rect x="216.30" y="330.92" width="2.2" height="15.50" fill="#f28d1a"/><rect x="219.53" y="329.13" width="2.2" height="17.29" fill="#ffffff"/><rect x="222.75" y="327.34" width="2.2" height="1.79" fill="#ffffff"/><rect x="225.98" y="327.34" width="2.2" height="10.14" fill="#f28d1a"/><rect x="229.20" y="329.13" width="2.2" height="8.35" fill="#ffffff"/><rect x="232.43" y="329.13" width="2.2" height="7.75" fill="#f28d1a"/><rect x="235.65" y="312.43" width="2.2" height="24.44" fill="#ffffff"/><rect x="238.88" y="312.43" width="2.2" height="15.50" fill="#f28d1a"/><rect x="242.10" y="327.94" width="2.2" height="1.19" fill="#f28d1a"/><rect x="245.33" y="329.13" width="2.2" height="1.19" fill="#f28d1a"/><rect x="248.56" y="317.20" width="2.2" height="13.12" fill="#ffffff"/><rect x="251.78" y="308.26" width="2.2" height="8.94" fill="#ffffff"/><rect x="255.01" y="308.26" width="2.2" height="0.70" fill="#f28d1a"/><rect x="258.23" y="308.86" width="2.2" height="2.98" fill="#f28d1a"/><rect x="261.46" y="310.05" width="2.2" height="1.79" fill="#ffffff"/><rect x="264.68" y="310.05" width="2.2" height="16.69" fill="#f28d1a"/><rect x="267.91" y="326.74" width="2.2" height="10.73" fill="#f28d1a"/><rect x="271.13" y="337.47" width="2.2" height="1.19" fill="#f28d1a"/><rect x="274.36" y="338.07" width="2.2" height="0.70" fill="#ffffff"/><rect x="277.58" y="321.97" width="2.2" height="16.10" fill="#ffffff"/><rect x="280.81" y="321.97" width="2.2" height="16.10" fill="#f28d1a"/><rect x="284.03" y="333.90" width="2.2" height="4.17" fill="#ffffff"/><rect x="287.26" y="329.72" width="2.2" height="4.17" fill="#ffffff"/><rect x="290.48" y="329.72" width="2.2" height="2.38" fill="#f28d1a"/><rect x="293.71" y="332.11" width="2.2" height="30.41" fill="#f28d1a"/><rect x="296.93" y="357.75" width="2.2" height="4.77" fill="#ffffff"/><rect x="300.16" y="357.75" width="2.2" height="18.48" fill="#f28d1a"/><rect x="303.38" y="337.77" width="2.2" height="38.45" fill="#ffffff"/><rect x="306.61" y="337.77" width="2.2" height="18.78" fill="#f28d1a"/><rect x="309.83" y="332.71" width="2.2" height="23.85" fill="#ffffff"/><rect x="313.06" y="322.27" width="2.2" height="10.43" fill="#ffffff"/><rect x="316.28" y="322.27" width="2.2" height="9.24" fill="#f28d1a"/><rect x="319.51" y="326.45" width="2.2" height="5.07" fill="#ffffff"/><rect x="322.73" y="326.45" width="2.2" height="5.66" fill="#f28d1a"/><rect x="325.96" y="329.72" width="2.2" height="2.38" fill="#ffffff"/><rect x="329.18" y="324.66" width="2.2" height="5.07" fill="#ffffff"/><rect x="332.41" y="324.66" width="2.2" height="2.38" fill="#f28d1a"/><rect x="335.63" y="323.46" width="2.2" height="3.58" fill="#ffffff"/><rect x="338.86" y="322.87" width="2.2" height="0.70" fill="#ffffff"/><rect x="342.08" y="309.16" width="2.2" height="13.71" fill="#ffffff"/><rect x="345.31" y="273.09" width="2.2" height="36.07" fill="#ffffff"/><rect x="348.53" y="271.30" width="2.2" height="1.79" fill="#ffffff"/><rect x="351.76" y="270.10" width="2.2" height="1.19" fill="#ffffff"/><rect x="354.98" y="265.33" width="2.2" height="4.77" fill="#ffffff"/><rect x="358.21" y="265.33" width="2.2" height="0.70" fill="#f28d1a"/><rect x="361.43" y="265.93" width="2.2" height="4.77" fill="#f28d1a"/><rect x="364.66" y="264.14" width="2.2" height="6.56" fill="#ffffff"/><rect x="367.88" y="264.14" width="2.2" height="3.58" fill="#f28d1a"/><rect x="371.11" y="267.72" width="2.2" height="0.70" fill="#f28d1a"/><rect x="374.33" y="254.60" width="2.2" height="13.71" fill="#ffffff"/><rect x="377.56" y="252.22" width="2.2" height="2.38" fill="#ffffff"/><rect x="380.78" y="252.22" width="2.2" height="5.96" fill="#f28d1a"/><rect x="384.01" y="258.18" width="2.2" height="9.54" fill="#f28d1a"/><rect x="387.23" y="265.33" width="2.2" height="2.38" fill="#ffffff"/><rect x="390.46" y="252.81" width="2.2" height="12.52" fill="#ffffff"/><rect x="393.68" y="251.62" width="2.2" height="1.19" fill="#ffffff"/><rect x="396.91" y="214.66" width="2.2" height="36.96" fill="#ffffff"/><rect x="400.13" y="214.66" width="2.2" height="1.79" fill="#f28d1a"/><rect x="403.36" y="205.71" width="2.2" height="10.73" fill="#ffffff"/><rect x="406.58" y="205.71" width="2.2" height="3.58" fill="#f28d1a"/><rect x="409.81" y="209.29" width="2.2" height="7.75" fill="#f28d1a"/><rect x="413.04" y="209.29" width="2.2" height="7.75" fill="#ffffff"/><rect x="416.26" y="209.29" width="2.2" height="3.58" fill="#f28d1a"/><rect x="419.49" y="211.68" width="2.2" height="1.19" fill="#ffffff"/><rect x="422.71" y="211.68" width="2.2" height="1.19" fill="#f28d1a"/><rect x="425.94" y="212.87" width="2.2" height="1.79" fill="#f28d1a"/><rect x="429.16" y="194.98" width="2.2" height="19.67" fill="#ffffff"/><rect x="432.39" y="194.98" width="2.2" height="5.37" fill="#f28d1a"/><rect x="435.61" y="193.19" width="2.2" height="7.15" fill="#ffffff"/><rect x="438.84" y="175.90" width="2.2" height="17.29" fill="#ffffff"/><rect x="442.06" y="163.98" width="2.2" height="11.92" fill="#ffffff"/><rect x="445.29" y="163.98" width="2.2" height="26.23" fill="#f28d1a"/><rect x="448.51" y="187.23" width="2.2" height="2.98" fill="#ffffff"/><rect x="451.74" y="180.08" width="2.2" height="7.15" fill="#ffffff"/><rect x="454.96" y="177.69" width="2.2" height="2.38" fill="#ffffff"/><rect x="458.19" y="177.69" width="2.2" height="2.98" fill="#f28d1a"/><rect x="461.41" y="180.67" width="2.2" height="6.56" fill="#f28d1a"/><rect x="464.64" y="187.23" width="2.2" height="13.12" fill="#f28d1a"/><rect x="467.86" y="200.35" width="2.2" height="9.54" fill="#f28d1a"/><rect x="471.09" y="206.31" width="2.2" height="3.58" fill="#ffffff"/><rect x="474.31" y="200.35" width="2.2" height="5.96" fill="#ffffff"/><rect x="477.54" y="198.56" width="2.2" height="1.79" fill="#ffffff"/><rect x="480.76" y="198.56" width="2.2" height="2.98" fill="#f28d1a"/><rect x="483.99" y="201.54" width="2.2" height="4.17" fill="#f28d1a"/><rect x="487.21" y="205.71" width="2.2" height="19.08" fill="#f28d1a"/><rect x="490.44" y="208.10" width="2.2" height="16.69" fill="#ffffff"/><rect x="493.66" y="200.35" width="2.2" height="7.75" fill="#ffffff"/><rect x="496.89" y="199.75" width="2.2" height="0.70" fill="#ffffff"/><rect x="500.11" y="172.33" width="2.2" height="27.43" fill="#ffffff"/><rect x="503.34" y="172.33" width="2.2" height="0.70" fill="#f28d1a"/><rect x="506.56" y="172.74" width="2.2" height="9.12" fill="#f28d1a"/><rect x="509.79" y="181.87" width="2.2" height="17.89" fill="#f28d1a"/><rect x="513.01" y="197.37" width="2.2" height="2.38" fill="#ffffff"/><rect x="516.24" y="197.37" width="2.2" height="4.17" fill="#f28d1a"/><rect x="519.46" y="200.35" width="2.2" height="1.19" fill="#ffffff"/><rect x="522.69" y="193.19" width="2.2" height="7.15" fill="#ffffff"/><rect x="525.91" y="193.19" width="2.2" height="13.12" fill="#f28d1a"/><rect x="529.14" y="204.52" width="2.2" height="1.79" fill="#ffffff"/><rect x="532.36" y="204.52" width="2.2" height="1.19" fill="#f28d1a"/><rect x="535.59" y="205.71" width="2.2" height="8.35" fill="#f28d1a"/><rect x="538.81" y="214.06" width="2.2" height="7.75" fill="#f28d1a"/><rect x="542.04" y="221.81" width="2.2" height="6.56" fill="#f28d1a"/><rect x="545.26" y="200.94" width="2.2" height="27.43" fill="#ffffff"/><rect x="548.49" y="197.96" width="2.2" height="2.98" fill="#ffffff"/><rect x="551.71" y="190.21" width="2.2" height="7.75" fill="#ffffff"/><rect x="554.94" y="190.21" width="2.2" height="1.79" fill="#f28d1a"/><rect x="558.16" y="191.41" width="2.2" height="0.70" fill="#ffffff"/><rect x="561.39" y="190.21" width="2.2" height="1.19" fill="#ffffff"/><rect x="564.61" y="183.66" width="2.2" height="6.56" fill="#ffffff"/><rect x="567.84" y="183.66" width="2.2" height="7.15" fill="#f28d1a"/><rect x="571.06" y="190.81" width="2.2" height="8.94" fill="#f28d1a"/><rect x="574.29" y="180.67" width="2.2" height="19.08" fill="#ffffff"/><rect x="577.52" y="176.50" width="2.2" height="4.17" fill="#ffffff"/><rect x="580.74" y="176.50" width="2.2" height="9.54" fill="#f28d1a"/><rect x="583.97" y="184.85" width="2.2" height="1.19" fill="#ffffff"/><rect x="587.19" y="178.89" width="2.2" height="5.96" fill="#ffffff"/><rect x="590.42" y="178.89" width="2.2" height="5.37" fill="#f28d1a"/><rect x="593.64" y="180.67" width="2.2" height="3.58" fill="#ffffff"/><rect x="596.87" y="166.37" width="2.2" height="14.31" fill="#ffffff"/><rect x="600.09" y="138.34" width="2.2" height="28.02" fill="#ffffff"/><rect x="603.32" y="129.40" width="2.2" height="8.94" fill="#ffffff"/><rect x="606.54" y="129.40" width="2.2" height="0.70" fill="#f28d1a"/><rect x="609.77" y="119.86" width="2.2" height="10.14" fill="#ffffff"/><rect x="612.99" y="115.69" width="2.2" height="4.17" fill="#ffffff"/><rect x="616.22" y="115.69" width="2.2" height="11.92" fill="#f28d1a"/><rect x="619.44" y="122.25" width="2.2" height="5.37" fill="#ffffff"/><rect x="622.67" y="118.67" width="2.2" height="3.58" fill="#ffffff"/><rect x="625.89" y="118.67" width="2.2" height="7.75" fill="#f28d1a"/><rect x="629.12" y="126.42" width="2.2" height="0.70" fill="#f28d1a"/><rect x="632.34" y="127.02" width="2.2" height="3.58" fill="#f28d1a"/><rect x="635.57" y="130.00" width="2.2" height="0.70" fill="#ffffff"/><rect x="638.79" y="115.09" width="2.2" height="14.91" fill="#ffffff"/><rect x="642.02" y="115.09" width="2.2" height="7.15" fill="#f28d1a"/><rect x="645.24" y="122.25" width="2.2" height="1.79" fill="#f28d1a"/><rect x="648.47" y="124.04" width="2.2" height="4.77" fill="#f28d1a"/><rect x="651.69" y="127.02" width="2.2" height="1.79" fill="#ffffff"/><rect x="654.92" y="118.07" width="2.2" height="8.94" fill="#ffffff"/><rect x="658.14" y="118.07" width="2.2" height="8.35" fill="#f28d1a"/><rect x="661.37" y="126.42" width="2.2" height="0.70" fill="#f28d1a"/><rect x="664.59" y="127.02" width="2.2" height="0.70" fill="#f28d1a"/><rect x="667.82" y="127.61" width="2.2" height="12.52" fill="#f28d1a"/><rect x="671.04" y="140.13" width="2.2" height="14.31" fill="#f28d1a"/><rect x="674.27" y="154.44" width="2.2" height="4.77" fill="#f28d1a"/><rect x="677.49" y="149.08" width="2.2" height="10.14" fill="#ffffff"/><rect x="680.72" y="144.31" width="2.2" height="4.77" fill="#ffffff"/><rect x="683.94" y="144.31" width="2.2" height="5.37" fill="#f28d1a"/><rect x="687.17" y="144.31" width="2.2" height="5.37" fill="#ffffff"/><rect x="690.39" y="129.40" width="2.2" height="14.90" fill="#ffffff"/><rect x="693.62" y="129.40" width="2.2" height="4.77" fill="#f28d1a"/><rect x="696.84" y="134.17" width="2.2" height="1.19" fill="#f28d1a"/><rect x="700.07" y="118.67" width="2.2" height="16.69" fill="#ffffff"/><rect x="703.29" y="118.67" width="2.2" height="3.58" fill="#f28d1a"/><rect x="706.52" y="113.90" width="2.2" height="8.35" fill="#ffffff"/><rect x="709.74" y="94.82" width="2.2" height="19.08" fill="#ffffff"/><rect x="712.97" y="94.82" width="2.2" height="29.21" fill="#f28d1a"/><rect x="716.19" y="120.17" width="2.2" height="3.86" fill="#ffffff"/>
<line x1="432.8" y1="149.1" x2="581.8" y2="197.1" stroke="#ee930f" stroke-width="1.45"/>
<line x1="433.4" y1="211.8" x2="581.8" y2="258.4" stroke="#ee930f" stroke-width="1.45"/>
<line x1="433.2" y1="181.1" x2="581.8" y2="227.2" stroke="#e03a5a" stroke-width="1.55" stroke-dasharray="7 7.97"/>
</g>
<rect x="7" y="432.95" width="1010" height="1.05" fill="#7e4800"/>
<rect x="964.15" y="19" width="1.25" height="433" fill="#643a00"/>
<text filter="url(#g)" x="971" y="427.6" font-size="8.2" fill="#adadad" font-weight="normal" text-anchor="start" textLength="39.6" lengthAdjust="spacingAndGlyphs" stroke="#adadad" stroke-width="0.22">68,000.00</text>
<text filter="url(#g)" x="971" y="403.7" font-size="8.2" fill="#adadad" font-weight="normal" text-anchor="start" textLength="39.6" lengthAdjust="spacingAndGlyphs" stroke="#adadad" stroke-width="0.22">72,000.00</text>
<text filter="url(#g)" x="971" y="379.9" font-size="8.2" fill="#adadad" font-weight="normal" text-anchor="start" textLength="39.6" lengthAdjust="spacingAndGlyphs" stroke="#adadad" stroke-width="0.22">76,000.00</text>
<text filter="url(#g)" x="971" y="356.0" font-size="8.2" fill="#adadad" font-weight="normal" text-anchor="start" textLength="39.6" lengthAdjust="spacingAndGlyphs" stroke="#adadad" stroke-width="0.22">80,000.00</text>
<text filter="url(#g)" x="971" y="332.2" font-size="8.2" fill="#adadad" font-weight="normal" text-anchor="start" textLength="39.6" lengthAdjust="spacingAndGlyphs" stroke="#adadad" stroke-width="0.22">84,000.00</text>
<text filter="url(#g)" x="971" y="308.3" font-size="8.2" fill="#adadad" font-weight="normal" text-anchor="start" textLength="39.6" lengthAdjust="spacingAndGlyphs" stroke="#adadad" stroke-width="0.22">88,000.00</text>
<text filter="url(#g)" x="971" y="284.5" font-size="8.2" fill="#adadad" font-weight="normal" text-anchor="start" textLength="39.6" lengthAdjust="spacingAndGlyphs" stroke="#adadad" stroke-width="0.22">92,000.00</text>
<text filter="url(#g)" x="971" y="260.6" font-size="8.2" fill="#adadad" font-weight="normal" text-anchor="start" textLength="39.6" lengthAdjust="spacingAndGlyphs" stroke="#adadad" stroke-width="0.22">96,000.00</text>
<text filter="url(#g)" x="971" y="236.8" font-size="8.2" fill="#adadad" font-weight="normal" text-anchor="start" textLength="39.6" lengthAdjust="spacingAndGlyphs" stroke="#adadad" stroke-width="0.22">100,000.00</text>
<text filter="url(#g)" x="971" y="212.9" font-size="8.2" fill="#adadad" font-weight="normal" text-anchor="start" textLength="39.6" lengthAdjust="spacingAndGlyphs" stroke="#adadad" stroke-width="0.22">104,000.00</text>
<text filter="url(#g)" x="971" y="189.1" font-size="8.2" fill="#adadad" font-weight="normal" text-anchor="start" textLength="39.6" lengthAdjust="spacingAndGlyphs" stroke="#adadad" stroke-width="0.22">108,000.00</text>
<text filter="url(#g)" x="971" y="165.2" font-size="8.2" fill="#adadad" font-weight="normal" text-anchor="start" textLength="39.6" lengthAdjust="spacingAndGlyphs" stroke="#adadad" stroke-width="0.22">112,000.00</text>
<text filter="url(#g)" x="971" y="117.5" font-size="8.2" fill="#adadad" font-weight="normal" text-anchor="start" textLength="39.6" lengthAdjust="spacingAndGlyphs" stroke="#adadad" stroke-width="0.22">120,000.00</text>
<text filter="url(#g)" x="971" y="93.7" font-size="8.2" fill="#adadad" font-weight="normal" text-anchor="start" textLength="39.6" lengthAdjust="spacingAndGlyphs" stroke="#adadad" stroke-width="0.22">124,000.00</text>
<text filter="url(#g)" x="971" y="69.8" font-size="8.2" fill="#adadad" font-weight="normal" text-anchor="start" textLength="39.6" lengthAdjust="spacingAndGlyphs" stroke="#adadad" stroke-width="0.22">128,000.00</text>
<text filter="url(#g)" x="971" y="46.0" font-size="8.2" fill="#adadad" font-weight="normal" text-anchor="start" textLength="39.6" lengthAdjust="spacingAndGlyphs" stroke="#adadad" stroke-width="0.22">132,000.00</text>
<rect x="965.3" y="19" width="51.7" height="22" fill="#000"/>
<rect x="967" y="21.5" width="48" height="17.2" rx="3" fill="#0f0f0f" stroke="#2e2e2e" stroke-width="1"/>
<text filter="url(#g)" x="973" y="33.1" font-size="8.4" fill="#d6d6d6" font-weight="normal" text-anchor="start" textLength="14.8" lengthAdjust="spacingAndGlyphs" stroke="#d6d6d6" stroke-width="0.22">USD</text>
<path d="M932.7 115.5H964.4V126.8H932.7a2 2 0 0 1-2-2V117.5a2 2 0 0 1 2-2z" fill="#ff9800"/>
<path d="M965 115.5H1013a2 2 0 0 1 2 2V143.9a2 2 0 0 1-2 2H965z" fill="#ff9800"/>
<text filter="url(#g)" x="933.7" y="124.2" font-size="8.0" fill="#3a2300" font-weight="normal" text-anchor="start" textLength="27.9" lengthAdjust="spacingAndGlyphs" stroke="#3a2300" stroke-width="0.3">BTCUSD</text>
<text filter="url(#g)" x="971.3" y="123.9" font-size="8.2" fill="#2e1c00" font-weight="normal" text-anchor="start" textLength="38.9" lengthAdjust="spacingAndGlyphs" stroke="#2e1c00" stroke-width="0.3">119,047.69</text>
<text filter="url(#g)" x="971.3" y="133.3" font-size="8.2" fill="#2e1c00" font-weight="normal" text-anchor="start" textLength="28.5" lengthAdjust="spacingAndGlyphs" stroke="#2e1c00" stroke-width="0.3">+16.41%</text>
<text filter="url(#g)" x="971.3" y="142.5" font-size="8.2" fill="#855000" font-weight="normal" text-anchor="start" textLength="30.5" lengthAdjust="spacingAndGlyphs" stroke="#855000" stroke-width="0.3">13:30:20</text>
<text filter="url(#g)" x="87.9" y="446.2" font-size="8.4" fill="#d0d0d0" font-weight="normal" text-anchor="middle" stroke="#d0d0d0" stroke-width="0.3">Feb</text>
<text filter="url(#g)" x="178.2" y="446.2" font-size="8.4" fill="#d0d0d0" font-weight="normal" text-anchor="middle" stroke="#d0d0d0" stroke-width="0.3">Mar</text>
<text filter="url(#g)" x="278.2" y="446.2" font-size="8.4" fill="#d0d0d0" font-weight="normal" text-anchor="middle" stroke="#d0d0d0" stroke-width="0.3">Apr</text>
<text filter="url(#g)" x="374.9" y="446.2" font-size="8.4" fill="#d0d0d0" font-weight="normal" text-anchor="middle" stroke="#d0d0d0" stroke-width="0.3">May</text>
<text filter="url(#g)" x="474.9" y="446.2" font-size="8.4" fill="#d0d0d0" font-weight="normal" text-anchor="middle" stroke="#d0d0d0" stroke-width="0.3">Jun</text>
<text filter="url(#g)" x="571.7" y="446.2" font-size="8.4" fill="#d0d0d0" font-weight="normal" text-anchor="middle" stroke="#d0d0d0" stroke-width="0.3">Jul</text>
<text filter="url(#g)" x="671.6" y="446.2" font-size="8.4" fill="#d0d0d0" font-weight="normal" text-anchor="middle" stroke="#d0d0d0" stroke-width="0.3">Aug</text>
<text filter="url(#g)" x="771.6" y="446.2" font-size="8.4" fill="#d0d0d0" font-weight="normal" text-anchor="middle" stroke="#d0d0d0" stroke-width="0.3">Sep</text>
<text filter="url(#g)" x="868.4" y="446.2" font-size="8.4" fill="#d0d0d0" font-weight="normal" text-anchor="middle" stroke="#d0d0d0" stroke-width="0.3">Oct</text>
<text filter="url(#g)" x="6.6" y="12.6" font-size="7.7" fill="#d2d2d2" font-weight="normal" text-anchor="start" textLength="246" lengthAdjust="spacingAndGlyphs" stroke="#d2d2d2" stroke-width="0.25">BitXJournal created with TradingView.com, Aug 15, 2025 10:29 UTC</text>
<text filter="url(#g)" x="12" y="31.0" font-size="8.0" fill="#b2b2b2" font-weight="normal" text-anchor="start" textLength="120" lengthAdjust="spacingAndGlyphs" stroke="#b2b2b2" stroke-width="0.2">Bitcoin / U.S. Dollar · 1D · INDEX</text>
<text filter="url(#g)" x="137" y="31.0" font-size="8.0" fill="#9a9a9a" font-weight="normal" text-anchor="start" stroke="#9a9a9a" stroke-width="0.22">O</text>
<text filter="url(#g)" x="143" y="31.0" font-size="8.0" fill="#e0e0e0" font-weight="bold" text-anchor="start" textLength="39" lengthAdjust="spacingAndGlyphs">118,401.47</text>
<text filter="url(#g)" x="187" y="31.0" font-size="8.0" fill="#9a9a9a" font-weight="normal" text-anchor="start" stroke="#9a9a9a" stroke-width="0.22">H</text>
<text filter="url(#g)" x="193" y="31.0" font-size="8.0" fill="#e0e0e0" font-weight="bold" text-anchor="start" textLength="39" lengthAdjust="spacingAndGlyphs">119,337.07</text>
<text filter="url(#g)" x="237.5" y="31.0" font-size="8.0" fill="#9a9a9a" font-weight="normal" text-anchor="start" stroke="#9a9a9a" stroke-width="0.22">L</text>
<text filter="url(#g)" x="241.5" y="31.0" font-size="8.0" fill="#e0e0e0" font-weight="bold" text-anchor="start" textLength="40" lengthAdjust="spacingAndGlyphs">117,750.15</text>
<text filter="url(#g)" x="286" y="31.0" font-size="8.0" fill="#9a9a9a" font-weight="normal" text-anchor="start" stroke="#9a9a9a" stroke-width="0.22">C</text>
<text filter="url(#g)" x="292" y="31.0" font-size="8.0" fill="#e0e0e0" font-weight="bold" text-anchor="start" textLength="39" lengthAdjust="spacingAndGlyphs">119,047.69</text>
<text filter="url(#g)" x="336" y="31.0" font-size="8.0" fill="#e0e0e0" font-weight="bold" text-anchor="start" textLength="62" lengthAdjust="spacingAndGlyphs">+653.47 (+0.55%)</text>
<text filter="url(#g)" x="403" y="31.0" font-size="8.0" fill="#a8a8a8" font-weight="normal" text-anchor="start" textLength="10.5" lengthAdjust="spacingAndGlyphs" stroke="#a8a8a8" stroke-width="0.22">Vol</text>
<text filter="url(#g)" x="414" y="31.0" font-size="8.0" fill="#e0e0e0" font-weight="bold" text-anchor="start" textLength="21" lengthAdjust="spacingAndGlyphs">2.66K</text>
<text filter="url(#g)" x="12" y="42.5" font-size="8.0" fill="#a8a8a8" font-weight="normal" text-anchor="start" textLength="11" lengthAdjust="spacingAndGlyphs" stroke="#a8a8a8" stroke-width="0.22">Vol</text>
<text filter="url(#g)" x="28" y="42.5" font-size="8.0" fill="#1f8f86" font-weight="normal" text-anchor="start" textLength="21.5" lengthAdjust="spacingAndGlyphs" stroke="#1f8f86" stroke-width="0.22">2.66K</text>
<g fill="#dcdcdc"><path d="M7.9 467.1H16.25V477.5H11.9V471.9H7.9z"/><circle cx="18.8" cy="469.1" r="2"/><path d="M21.9 467.1H27.75L23.75 477.5H18.5z"/></g>
<text filter="url(#g)" x="33.4" y="477.5" font-size="14" fill="#dcdcdc" font-weight="normal" text-anchor="start" textLength="81" lengthAdjust="spacingAndGlyphs" stroke="#dcdcdc" stroke-width="0.75">TradingView</text>
<g><clipPath id="f4"><circle cx="740.8" cy="424.6" r="5.1"/></clipPath><circle cx="740.8" cy="424.6" r="6.35" fill="#1d0508" stroke="#cf2a40" stroke-width="1.3"/><g clip-path="url(#f4)"><rect x="734.8" y="418.6" width="12" height="12" fill="#f1f1f1"/><rect x="734.8" y="419.40" width="12" height="2.3" fill="#ee4f5a"/><rect x="734.8" y="424.50" width="12" height="1.9" fill="#ee4f5a"/><rect x="734.8" y="428.20" width="12" height="2" fill="#ee4f5a"/><rect x="734.8" y="418.6" width="7.4" height="6.6" fill="#4a7de2"/><rect x="734.8" y="421.30" width="7.4" height="0.6" fill="#86a9ee"/><rect x="734.8" y="423.10" width="7.4" height="0.6" fill="#86a9ee"/></g></g>
<g><clipPath id="f3"><circle cx="732.6" cy="424.6" r="5.1"/></clipPath><circle cx="732.6" cy="424.6" r="6.35" fill="#1d0508" stroke="#cf2a40" stroke-width="1.3"/><g clip-path="url(#f3)"><rect x="726.6" y="418.6" width="12" height="12" fill="#f1f1f1"/><rect x="726.6" y="419.40" width="12" height="2.3" fill="#ee4f5a"/><rect x="726.6" y="424.50" width="12" height="1.9" fill="#ee4f5a"/><rect x="726.6" y="428.20" width="12" height="2" fill="#ee4f5a"/><rect x="726.6" y="418.6" width="7.4" height="6.6" fill="#4a7de2"/><rect x="726.6" y="421.30" width="7.4" height="0.6" fill="#86a9ee"/><rect x="726.6" y="423.10" width="7.4" height="0.6" fill="#86a9ee"/></g></g>
<g><clipPath id="f1"><circle cx="717.2" cy="424.6" r="5.1"/></clipPath><circle cx="717.2" cy="424.6" r="6.35" fill="#1d0508" stroke="#cf2a40" stroke-width="1.3"/><g clip-path="url(#f1)"><rect x="711.2" y="418.6" width="12" height="12" fill="#f1f1f1"/><rect x="711.2" y="419.40" width="12" height="2.3" fill="#ee4f5a"/><rect x="711.2" y="424.50" width="12" height="1.9" fill="#ee4f5a"/><rect x="711.2" y="428.20" width="12" height="2" fill="#ee4f5a"/><rect x="711.2" y="418.6" width="7.4" height="6.6" fill="#4a7de2"/><rect x="711.2" y="421.30" width="7.4" height="0.6" fill="#86a9ee"/><rect x="711.2" y="423.10" width="7.4" height="0.6" fill="#86a9ee"/></g></g>
<g><clipPath id="f2"><circle cx="730.0" cy="424.6" r="5.1"/></clipPath><circle cx="730.0" cy="424.6" r="6.35" fill="#1d0508" stroke="#cf2a40" stroke-width="1.3"/><g clip-path="url(#f2)"><rect x="724.0" y="418.6" width="12" height="12" fill="#f1f1f1"/><rect x="724.0" y="419.40" width="12" height="2.3" fill="#ee4f5a"/><rect x="724.0" y="424.50" width="12" height="1.9" fill="#ee4f5a"/><rect x="724.0" y="428.20" width="12" height="2" fill="#ee4f5a"/><rect x="724.0" y="418.6" width="7.4" height="6.6" fill="#4a7de2"/><rect x="724.0" y="421.30" width="7.4" height="0.6" fill="#86a9ee"/><rect x="724.0" y="423.10" width="7.4" height="0.6" fill="#86a9ee"/></g></g>
<circle cx="717.5" cy="407.9" r="6.75" fill="#0b050d" stroke="#9a3cb4" stroke-width="1.25"/>
<path d="M718.9 404.4l-3.7 4.2h2.3l-1.1 3.1 3.9-4.3h-2.3z" fill="#b04ccc"/>
<circle cx="722.1" cy="403.3" r="1.85" fill="#f23645"/>
</svg>
</body></html>
